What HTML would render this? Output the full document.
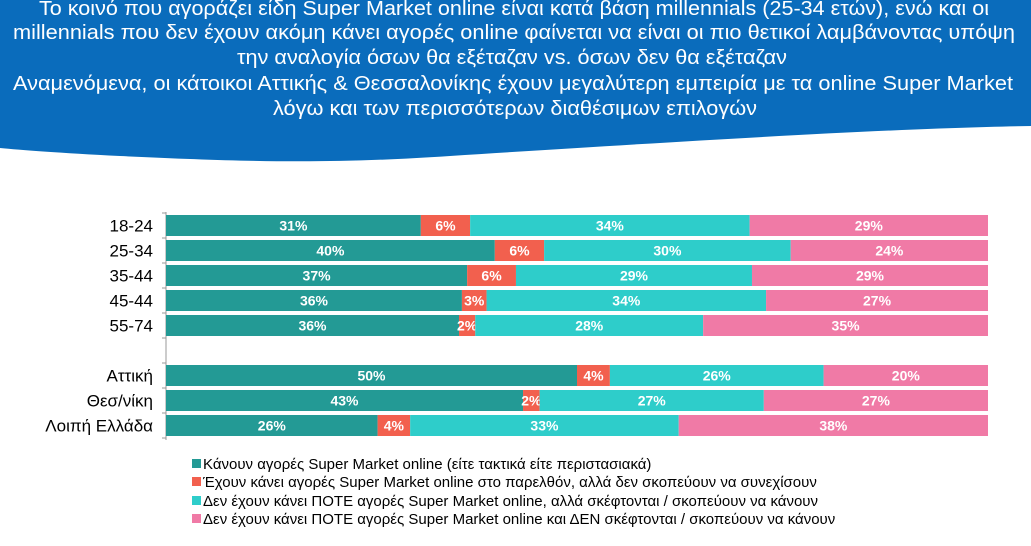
<!DOCTYPE html>
<html><head><meta charset="utf-8"><style>
html,body{margin:0;padding:0;background:#fff;width:1031px;height:546px;overflow:hidden}
svg{display:block;font-family:"Liberation Sans","DejaVu Sans",sans-serif}
</style></head><body>
<svg id="chart" width="1031" height="546" viewBox="0 0 1031 546" xmlns="http://www.w3.org/2000/svg">
<path d="M0 0H1031V126C900 128 700 140 450 156C330 164 250 162 120 156C60 153 20 150 0 148Z" fill="#0a6cbc"/>
<g fill="#fff" font-size="20" text-anchor="middle">
<text x="514" y="15" textLength="950" lengthAdjust="spacingAndGlyphs">Το κοινό που αγοράζει είδη Super Market online είναι κατά βάση millennials (25-34 ετών), ενώ και οι</text>
<text x="514" y="39" textLength="1002" lengthAdjust="spacingAndGlyphs">millennials που δεν έχουν ακόμη κάνει αγορές online φαίνεται να είναι οι πιο θετικοί λαμβάνοντας υπόψη</text>
<text x="512" y="64" textLength="550" lengthAdjust="spacingAndGlyphs">την αναλογία όσων θα εξέταζαν vs. όσων δεν θα εξέταζαν</text>
<text x="513" y="90" textLength="1000" lengthAdjust="spacingAndGlyphs">Αναμενόμενα, οι κάτοικοι Αττικής &amp; Θεσσαλονίκης έχουν μεγαλύτερη εμπειρία με τα online Super Market</text>
<text x="515" y="115" textLength="484" lengthAdjust="spacingAndGlyphs">λόγω και των περισσότερων διαθέσιμων επιλογών</text>
</g>
<g id="plot"></g>
<g font-size="15" fill="#000">
<rect x="192" y="459" width="9" height="9" fill="#239a95"/><text x="203" y="469">Κάνουν αγορές Super Market online (είτε τακτικά είτε περιστασιακά)</text>
<rect x="192" y="477" width="9" height="9" fill="#f2604e"/><text x="203" y="487">Έχουν κάνει αγορές Super Market online στο παρελθόν, αλλά δεν σκοπεύουν να συνεχίσουν</text>
<rect x="192" y="496" width="9" height="9" fill="#2ecdca"/><text x="203" y="506">Δεν έχουν κάνει ΠΟΤΕ αγορές Super Market online, αλλά σκέφτονται / σκοπεύουν να κάνουν</text>
<rect x="192" y="514" width="9" height="9" fill="#f07aa6"/><text x="203" y="524">Δεν έχουν κάνει ΠΟΤΕ αγορές Super Market online και ΔΕΝ σκέφτονται / σκοπεύουν να κάνουν</text>
</g>
</svg>
<script>
const categories=["18-24","25-34","35-44","45-44","55-74","","Αττική","Θεσ/νίκη","Λοιπή Ελλάδα"];
const buyNow=[31,40,37,36,36,null,50,43,26];
const boughtPast=[6,6,6,3,2,null,4,2,4];
const consider=[34,30,29,34,28,null,26,27,33];
const never=[29,24,29,27,35,null,20,27,38];
const series=[buyNow,boughtPast,consider,never];
const seriesNames=["buy-now","bought-past","consider","never"];
const colors=["#239a95","#f2604e","#2ecdca","#f07aa6"];
const X0=166,X1=988,Y0=215,STEP=25,BH=21;
const ns="http://www.w3.org/2000/svg";
const g=document.getElementById('plot');
function xs(frac){return X0+frac*(X1-X0);}
function yb(i){return Y0+i*STEP;}
function mk(t,a){const e=document.createElementNS(ns,t);for(const k in a)e.setAttribute(k,a[k]);g.appendChild(e);return e;}
const ax=mk('line',{x1:X0,y1:Y0-3,x2:X0,y2:yb(categories.length),stroke:'#999','stroke-width':1});


for(let i=0;i<=categories.length;i++){
 const t=mk('line',{x1:X0-4,y1:yb(i)-2,x2:X0,y2:yb(i)-2,stroke:'#999'});
 
 
}
categories.forEach((c,i)=>{
 const lb=mk('text',{x:X0-13,y:yb(i)+BH/2+6,'text-anchor':'end','font-size':17,fill:'#000'});
 lb.textContent=c;
 
 
 if(buyNow[i]===null)return;
 let tot=0;series.forEach(s=>tot+=s[i]);
 let acc=0;
 series.forEach((s,k)=>{
  const a=xs(acc/tot),b=xs((acc+s[i])/tot);
  const r=mk('rect',{x:a,y:yb(i),width:b-a,height:BH,fill:colors[k]});
  
  
  const tx=mk('text',{x:(a+b)/2,y:yb(i)+BH/2+5,'text-anchor':'middle','font-size':14,'font-weight':'bold',fill:'#fff'});
  tx.textContent=s[i]+'%';
  
  
  acc+=s[i];
 });
});
</script>
</body></html>
